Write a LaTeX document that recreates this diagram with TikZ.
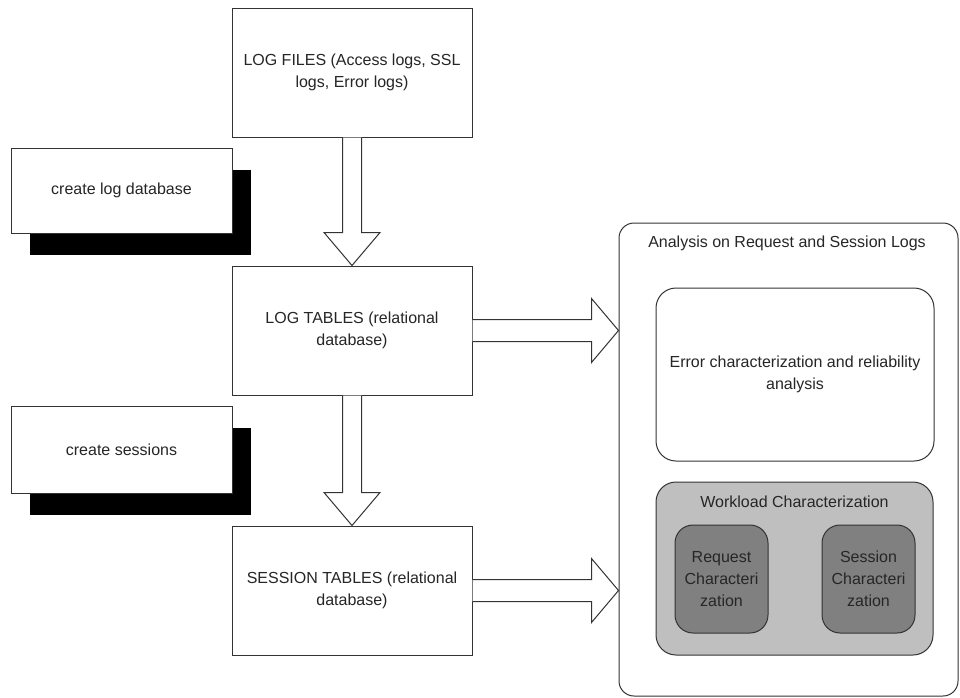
\documentclass[tikz,border=0pt]{standalone}
\usepackage{fontspec}
\setmainfont{Liberation Sans}
\usetikzlibrary{calc,shadows}
\begin{document}
\begin{tikzpicture}[x=1pt,y=-1pt,
  every node/.style={font=\fontsize{16}{22}\selectfont, text=black!85, align=center, inner sep=0pt},
  box/.style={draw=black!80, line width=1pt, fill=white, minimum width=240pt, minimum height=129pt},
  actbox/.style={draw=black!80, line width=1pt, fill=white, minimum width=221pt,
    general shadow={fill=black, shadow xshift=19pt, shadow yshift=-22pt}},
  rbox/.style={draw=black!80, line width=1pt, rounded corners=20pt},
  blockarrow/.style={draw=black!80, line width=1pt, fill=white, line join=miter}]
\useasboundingbox (0,0) rectangle (960,697);

% container
\node[rbox, rounded corners=15pt, minimum width=339pt, minimum height=473pt] (analysis) at (788.5,459.5) {};
\node (atitle) at (787,243) {Analysis on Request and Session Logs};
\node[rbox, fill=white, minimum width=278pt, minimum height=173pt] (error) at (795,374.5)
  {Error characterization and reliability\\analysis};
\node[rbox, fill=black!25, minimum width=277pt, minimum height=173pt] (workload) at (794.5,568.5) {};
\node (wtitle) at (794.5,502) {Workload Characterization};
\node[rbox, rounded corners=18pt, fill=black!50, minimum width=93pt, minimum height=108pt] (request) at (721.5,579)
  {Request\\Characteri\\zation};
\node[rbox, rounded corners=18pt, fill=black!50, minimum width=93pt, minimum height=108pt] (session) at (868.5,579)
  {Session\\Characteri\\zation};

% left column
\node[box] (logfiles) at (352,72.5) {LOG FILES (Access logs, SSL\\logs, Error logs)};
\node[box] (logtables) at (352,330.5) {LOG TABLES (relational\\database)};
\node[box] (sesstables) at (352,590.5) {SESSION TABLES (relational\\database)};

\node[actbox, minimum height=85pt] (createlog) at (121.5,190.5) {create log database};
\node[actbox, minimum height=87pt] (createsess) at (121.5,449.5) {create sessions};

% block arrows
\draw[blockarrow] ($(logfiles.south)+(-9.5,0)$) -- ($(logtables.north)+(-9.5,-33)$)
  -- ($(logtables.north)+(-28,-33)$) -- (logtables.north) -- ($(logtables.north)+(28,-33)$)
  -- ($(logtables.north)+(9.5,-33)$) -- ($(logfiles.south)+(9.5,0)$);
\draw[blockarrow] ($(logtables.south)+(-9.5,0)$) -- ($(sesstables.north)+(-9.5,-33)$)
  -- ($(sesstables.north)+(-28,-33)$) -- (sesstables.north) -- ($(sesstables.north)+(28,-33)$)
  -- ($(sesstables.north)+(9.5,-33)$) -- ($(logtables.south)+(9.5,0)$);
\coordinate (t1) at (logtables.east -| analysis.west);
\draw[blockarrow] ($(logtables.east)+(0,-11)$) -- ($(t1)+(-27,-11)$) -- ($(t1)+(-27,-32)$)
  -- (t1) -- ($(t1)+(-27,32)$) -- ($(t1)+(-27,11)$) -- ($(logtables.east)+(0,11)$);
\coordinate (t2) at (sesstables.east -| analysis.west);
\draw[blockarrow] ($(sesstables.east)+(0,-11)$) -- ($(t2)+(-27,-11)$) -- ($(t2)+(-27,-32)$)
  -- (t2) -- ($(t2)+(-27,32)$) -- ($(t2)+(-27,11)$) -- ($(sesstables.east)+(0,11)$);
\end{tikzpicture}
\end{document}
